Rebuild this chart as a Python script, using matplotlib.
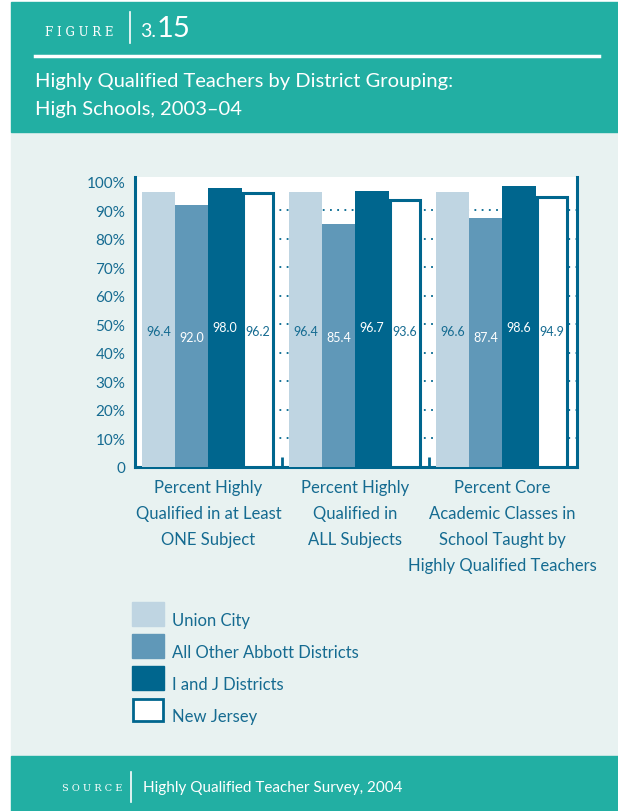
import matplotlib.pyplot as plt
from matplotlib.patches import Rectangle
from matplotlib.lines import Line2D
import numpy as np

# data
groups = ["Percent Highly\nQualified in at Least\nONE Subject",
          "Percent Highly\nQualified in\nALL Subjects",
          "Percent Core\nAcademic Classes in\nSchool Taught by\nHighly Qualified Teachers"]
series = ["Union City", "All Other Abbott Districts", "I and J Districts", "New Jersey"]
union_city = [96.4, 96.4, 96.6]
other_abbott = [92.0, 85.4, 87.4]
i_and_j = [98.0, 96.7, 98.6]
new_jersey = [96.2, 93.6, 94.9]
yticks = [0, 10, 20, 30, 40, 50, 60, 70, 80, 90, 100]
ytick_labels = ["0", "10%", "20%", "30%", "40%", "50%", "60%", "70%", "80%", "90%", "100%"]

# styles
TEAL = "#22afa3"
BG = "#e8f2f1"
DARK = "#00668e"
TXT = "#156b91"
fills = ["#bfd5e2", "#6098b8", DARK, "white"]
label_colors = [TXT, "white", "white", TXT]
label_y = [47.7, 45.6, 49.1, 47.7]

plt.rcParams['font.family'] = ['Lato', 'DejaVu Sans']

W, H = 618, 812
fig = plt.figure(figsize=(W / 100, H / 100), dpi=100)
fig.patch.set_facecolor("white")


def fx(px):
    return px / W


def fy(py):
    return 1 - py / H


# background bands
fig.add_artist(Rectangle((fx(11), fy(757)), fx(W - 11), (757 - 133) / H,
                         transform=fig.transFigure, color=BG, zorder=0))
fig.add_artist(Rectangle((fx(11), fy(133)), fx(W - 11), 130 / H,
                         transform=fig.transFigure, color=TEAL, zorder=0))
fig.add_artist(Rectangle((fx(11), 0), fx(W - 11), (H - 757) / H,
                         transform=fig.transFigure, color=TEAL, zorder=0))

# header
fig.text(fx(45), fy(32), "F I G U R E", color="white", fontsize=8.5,
         family="DejaVu Serif", va="center", ha="left")
fig.add_artist(Line2D([fx(130), fx(130)], [fy(13), fy(44)], color="white", lw=1.2,
                      transform=fig.transFigure))
fig.text(fx(140), fy(37), "3.", color="white", fontsize=14, va="baseline", ha="left")
fig.text(fx(157), fy(37), "15", color="white", fontsize=21, va="baseline", ha="left")
fig.add_artist(Line2D([fx(35), fx(599)], [fy(57), fy(57)], color="white", lw=2.5,
                      transform=fig.transFigure))
fig.text(fx(35), fy(82), "Highly Qualified Teachers by District Grouping:", color="white",
         fontsize=14.5, va="center", ha="left")
fig.text(fx(35), fy(110), "High Schools, 2003\u201304", color="white",
         fontsize=14.5, va="center", ha="left")

# footer
fig.text(fx(62), fy(789), "S O U R C E", color="white", fontsize=7,
         family="DejaVu Serif", va="center", ha="left")
fig.add_artist(Line2D([fx(131), fx(131)], [fy(773), fy(803)], color="white", lw=1.2,
                      transform=fig.transFigure))
fig.text(fx(143), fy(788), "Highly Qualified Teacher Survey, 2004", color="white",
         fontsize=11, va="center", ha="left")

# chart
ax = fig.add_axes([fx(135), fy(468), fx(577 - 135), (468 - 178) / H])
ax.set_facecolor("white")
x = np.arange(len(groups))
width = 0.225
values = [union_city, other_abbott, i_and_j, new_jersey]
for i, vals in enumerate(values):
    pos = x + (i - 1.5) * width
    if i == 3:
        ax.bar(pos, vals, width * 0.93, color="white", edgecolor=DARK, linewidth=2.2, zorder=3)
    else:
        ax.bar(pos, vals, width, color=fills[i], zorder=3)
    for p, v in zip(pos, vals):
        ax.text(p, label_y[i], f"{v:.1f}", color=label_colors[i],
                fontsize=9, ha="center", va="center", zorder=4)

for yv in yticks[1:-1]:
    ax.axhline(yv, color=DARK, lw=1.3, ls=(0, (1, 3)), zorder=1)

ax.set_xlim(-0.5, 2.507)
ax.set_ylim(0, 101.75)
ax.set_yticks(yticks)
ax.set_yticklabels(ytick_labels)
ax.tick_params(axis="y", length=0, pad=7, labelsize=11, labelcolor=TXT)
ax.set_xticks(x)
ax.set_xticklabels(groups)
ax.tick_params(axis="x", length=0, pad=9, labelsize=12, labelcolor=TXT)
plt.setp(ax.get_xticklabels(), linespacing=1.75)
ax.set_xticks([0.5, 1.5], minor=True)
ax.tick_params(axis="x", which="minor", direction="in", length=7, width=2, color=DARK)
for s in ["left", "bottom", "right"]:
    ax.spines[s].set_color(DARK)
    ax.spines[s].set_linewidth(2.2)
ax.spines["top"].set_visible(False)

# legend
for i, name in enumerate(series):
    top = 603 + 32 * i
    if i == 3:
        fig.add_artist(Rectangle((fx(133), fy(top + 23)), fx(30), 22 / H,
                                 transform=fig.transFigure, facecolor="white",
                                 edgecolor=DARK, lw=2))
    else:
        fig.add_artist(Rectangle((fx(132), fy(top + 24)), fx(32), 24 / H,
                                 transform=fig.transFigure, color=fills[i]))
    fig.text(fx(172), fy(top + 18), name, color=TXT, fontsize=12, va="center", ha="left")

fig.savefig("out.png", dpi=100, facecolor=fig.get_facecolor())
